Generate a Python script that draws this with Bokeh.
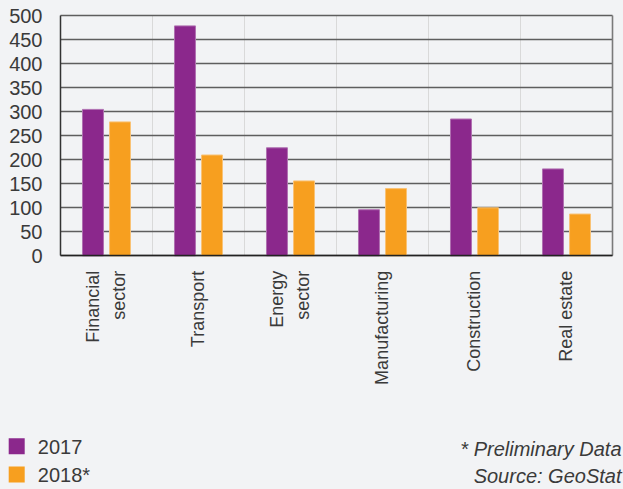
import math
import numpy as np
from bokeh.plotting import figure
from bokeh.models import Range1d, FixedTicker, Grid, GlobalInlineStyleSheet
from bokeh.core.properties import value
from bokeh.embed import file_html
from bokeh.resources import INLINE

# ---- data ----
categories = ["Financial\nsector", "Transport", "Energy\nsector",
              "Manufacturing", "Construction", "Real estate"]
values_2017 = [305, 479, 225, 96, 285, 181]
values_2018 = [279, 210, 156, 140, 100, 87]
series_names = ["2017", "2018*"]
y_ticks = [0, 50, 100, 150, 200, 250, 300, 350, 400, 450, 500]
footnotes = ["* Preliminary Data", "Source: GeoStat"]

# ---- style / layout ----
PURPLE = "#8B288C"
ORANGE = "#F79F1F"
SERIES_COLORS = [PURPLE, ORANGE]
BG = "#F2F3F5"
TEXT = "#3a3a3a"
FONT = "Liberation Sans"

W, H = 623, 489
X0_PX, CAT_PX = 60.0, 92.0        # left edge of first category, px per category
Y0_PX, UNIT_PX = 255.3, 0.48      # zero line, px per value unit
Y_MAX = 500
n = len(categories)


def px_x(px):
    return (np.asarray(px, dtype=float) - X0_PX) / CAT_PX


def px_y(py):
    return (Y0_PX - np.asarray(py, dtype=float)) / UNIT_PX


p = figure(width=W, height=H,
           x_range=Range1d(float(px_x(0)), float(px_x(W))),
           y_range=Range1d(float(px_y(H)), float(px_y(0))),
           output_backend="svg", toolbar_location=None, min_border=0,
           background_fill_color=BG, border_fill_color=BG, outline_line_color=None)
p.stylesheets.append(GlobalInlineStyleSheet(
    css=f"html, body {{ background: {BG}; margin: 0; padding: 0; overflow: hidden; }}"))

# grids (limited to the plotting area)
p.ygrid.ticker = FixedTicker(ticks=y_ticks)
p.ygrid.bounds = (0, Y_MAX)
p.ygrid.cross_bounds = (0, n)
p.ygrid.grid_line_color = "#5e5e5e"
p.ygrid.grid_line_width = 1.4
p.xgrid.ticker = FixedTicker(ticks=list(range(1, n)))
p.xgrid.bounds = (0, n)
p.xgrid.cross_bounds = (0, Y_MAX)
p.xgrid.grid_line_color = "#d9d9d9"
p.xgrid.grid_line_width = 1
p.add_layout(Grid(dimension=0, ticker=FixedTicker(ticks=[n]), bounds=(0, n),
                  cross_bounds=(0, Y_MAX),
                  grid_line_color="#7a7a7a", grid_line_width=1.6))

# y axis
p.yaxis.fixed_location = 0
p.yaxis.bounds = (0, Y_MAX)
p.yaxis.ticker = FixedTicker(ticks=y_ticks)
p.yaxis.axis_line_color = "#333333"
p.yaxis.axis_line_width = 1.5
p.yaxis.major_tick_line_color = None
p.yaxis.minor_tick_line_color = None
p.yaxis.major_tick_out = 0
p.yaxis.major_tick_in = 0
p.yaxis.major_label_standoff = 18
p.yaxis.major_label_text_font_size = "20px"
p.yaxis.major_label_text_font = FONT
p.yaxis.major_label_text_color = TEXT

# x axis
centers = np.arange(n) + 0.5
p.xaxis.fixed_location = 0
p.xaxis.bounds = (0, n)
p.xaxis.ticker = FixedTicker(ticks=list(centers))
p.xaxis.major_label_overrides = {float(c): lab for c, lab in zip(centers, categories)}
p.xaxis.major_label_orientation = math.pi / 2
p.xaxis.axis_line_color = "#222222"
p.xaxis.axis_line_width = 1.5
p.xaxis.major_tick_line_color = None
p.xaxis.minor_tick_line_color = None
p.xaxis.major_tick_out = 0
p.xaxis.major_tick_in = 0
p.xaxis.major_label_standoff = 15
p.xaxis.major_label_text_font_size = "18px"
p.xaxis.major_label_text_font = FONT
p.xaxis.major_label_text_color = TEXT
p.xaxis.major_label_text_line_height = 1.3

# bars
OFFSET = 0.147
BAR_W = 0.228
p.vbar(x=centers - OFFSET, top=values_2017, width=BAR_W,
       fill_color=PURPLE, line_color="#B070B1", line_width=1)
p.vbar(x=centers + OFFSET, top=values_2018, width=BAR_W,
       fill_color=ORANGE, line_color="#F9C275", line_width=1)

# legend (bottom-left)
leg_rows = px_y([445.7, 474.0])
p.rect(x=[float(px_x(16.2))] * 2, y=leg_rows, width=16, height=16,
       width_units="screen", height_units="screen",
       fill_color=SERIES_COLORS, line_color=None)
p.text(x=[float(px_x(37.3))] * 2, y=px_y([446.5, 474.8]), text=series_names,
       text_align="left", text_baseline="middle",
       text_font=value(FONT), text_font_size="20px", text_color=TEXT)

# footnotes (bottom-right)
p.text(x=[float(px_x(621))] * 2, y=px_y([448, 475]), text=footnotes,
       text_align="right", text_baseline="middle",
       text_font=value(FONT), text_font_style="italic",
       text_font_size="20px", text_color=TEXT)

open("out.html", "w").write(file_html(p, INLINE))
